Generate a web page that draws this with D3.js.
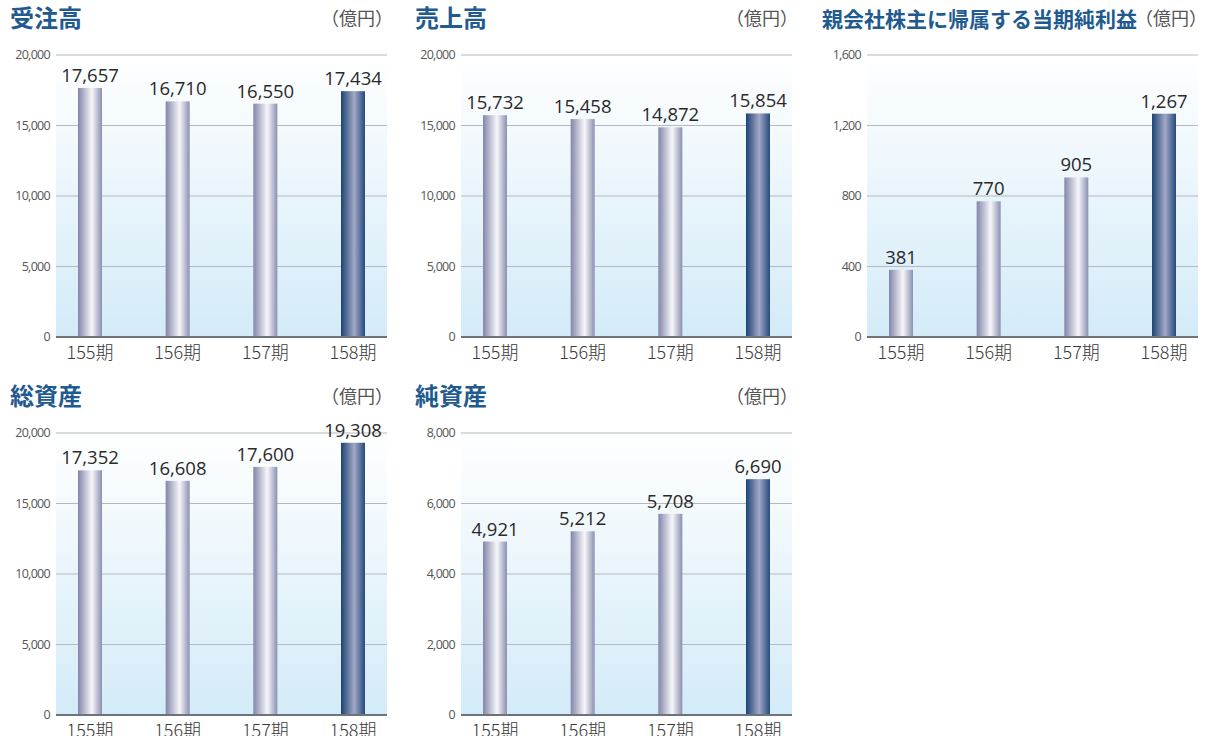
<!DOCTYPE html>
<html><head><meta charset="utf-8">
<script src="https://cdn.jsdelivr.net/npm/d3@7"></script>
<style>body{margin:0;background:#fff}svg{display:block}</style>
</head><body>
<svg id="c" width="1206" height="736"></svg>
<script>
const categories = ["155期","156期","157期","158期"];
const orders = [17657,16710,16550,17434];
const sales = [15732,15458,14872,15854];
const netIncome = [381,770,905,1267];
const totalAssets = [17352,16608,17600,19308];
const netAssets = [4921,5212,5708,6690];
const titles = ["受注高","売上高","親会社株主に帰属する当期純利益","総資産","純資産"];
const unitLabel = "（億円）";
const yMaxes = [20000,20000,1600,20000,8000];
const tickSets = [[0,5000,10000,15000,20000],[0,5000,10000,15000,20000],[0,400,800,1200,1600],[0,5000,10000,15000,20000],[0,2000,4000,6000,8000]];
const seriesList = [orders,sales,netIncome,totalAssets,netAssets];

const svg = d3.select("#c");
const defs = svg.append("defs");
const bg = defs.append("linearGradient").attr("id","bg").attr("x1",0).attr("y1",0).attr("x2",0).attr("y2",1);
bg.append("stop").attr("offset","0").attr("stop-color","#ffffff");
bg.append("stop").attr("offset","1").attr("stop-color","#d3ebf8");
const g1 = defs.append("linearGradient").attr("id","barA").attr("x1",0).attr("x2",1).attr("y1",0).attr("y2",0);
[["0","#8285a9"],["0.58","#f7f7fa"],["1","#8b8fb1"]].forEach(s=>g1.append("stop").attr("offset",s[0]).attr("stop-color",s[1]));
const g2 = defs.append("linearGradient").attr("id","barB").attr("x1",0).attr("x2",1).attr("y1",0).attr("y2",0);
[["0","#1b4374"],["0.55","#a3a8c6"],["1","#244a7d"]].forEach(s=>g2.append("stop").attr("offset",s[0]).attr("stop-color",s[1]));

const colOff = [0,405,811];
const rowOff = [0,378];
const layout = [[0,0],[1,0],[2,0],[0,1],[1,1]];
const fmt = d3.format(",");
const numFont = "'Open Sans','Noto Sans',sans-serif";
const cjk = "'Noto Sans CJK JP','Noto Sans',sans-serif";

layout.forEach(([c,r],i)=>{
  const ox = colOff[c], oy = rowOff[r];
  const g = svg.append("g").attr("transform",`translate(${ox},${oy})`);
  const left = 56, right = 387, top = 55, bottom = 337;
  const y = d3.scaleLinear().domain([0,yMaxes[i]]).range([bottom,top]);
  const x = d3.scalePoint().domain(categories).range([90,353]);
  const bw = 24;
  g.append("rect").attr("x",left).attr("y",top).attr("width",right-left).attr("height",bottom-top).attr("fill","url(#bg)");
  g.selectAll(".grid").data(tickSets[i].slice(1)).join("line")
    .attr("x1",left).attr("x2",right).attr("y1",d=>y(d)).attr("y2",d=>y(d))
    .attr("stroke","#b5b9bf").attr("stroke-width",1.2);
  g.selectAll(".tl").data(tickSets[i]).join("text")
    .attr("x",50).attr("y",d=>y(d)+4).attr("text-anchor","end")
    .attr("font-family",numFont).attr("font-size",12.5).attr("letter-spacing",-0.7)
    .attr("fill","#555").text(d=>fmt(d));
  g.selectAll(".bar").data(seriesList[i]).join("rect")
    .attr("x",(d,j)=>x(categories[j])-bw/2).attr("width",bw)
    .attr("y",d=>y(d)).attr("height",d=>bottom-y(d))
    .attr("fill",(d,j)=>j===3?"url(#barB)":"url(#barA)");
  g.append("line").attr("x1",left).attr("x2",right).attr("y1",bottom).attr("y2",bottom)
    .attr("stroke","#6e7378").attr("stroke-width",2);
  g.selectAll(".val").data(seriesList[i]).join("text")
    .attr("x",(d,j)=>x(categories[j])).attr("y",d=>y(d)-6).attr("text-anchor","middle")
    .attr("font-family",numFont).attr("font-size",18.5).attr("fill","#2a2a2a").text(d=>fmt(d));
  g.selectAll(".cat").data(categories).join("text")
    .attr("x",d=>x(d)).attr("y",bottom+22).attr("text-anchor","middle")
    .attr("font-family",cjk).attr("font-weight",300).attr("font-size",18).attr("fill","#3a3a3a").text(d=>d);
  g.append("text").attr("x",i===2?11:10).attr("y",27)
    .attr("font-family",cjk).attr("font-weight","bold").attr("font-size",i===2?21:24)
    .attr("fill","#215a8f").text(titles[i]);
  g.append("text").attr("x",i===2?396:393).attr("y",25).attr("text-anchor","end")
    .attr("font-family",cjk).attr("font-size",18).attr("fill","#555").text(unitLabel);
});
</script>
</body></html>
